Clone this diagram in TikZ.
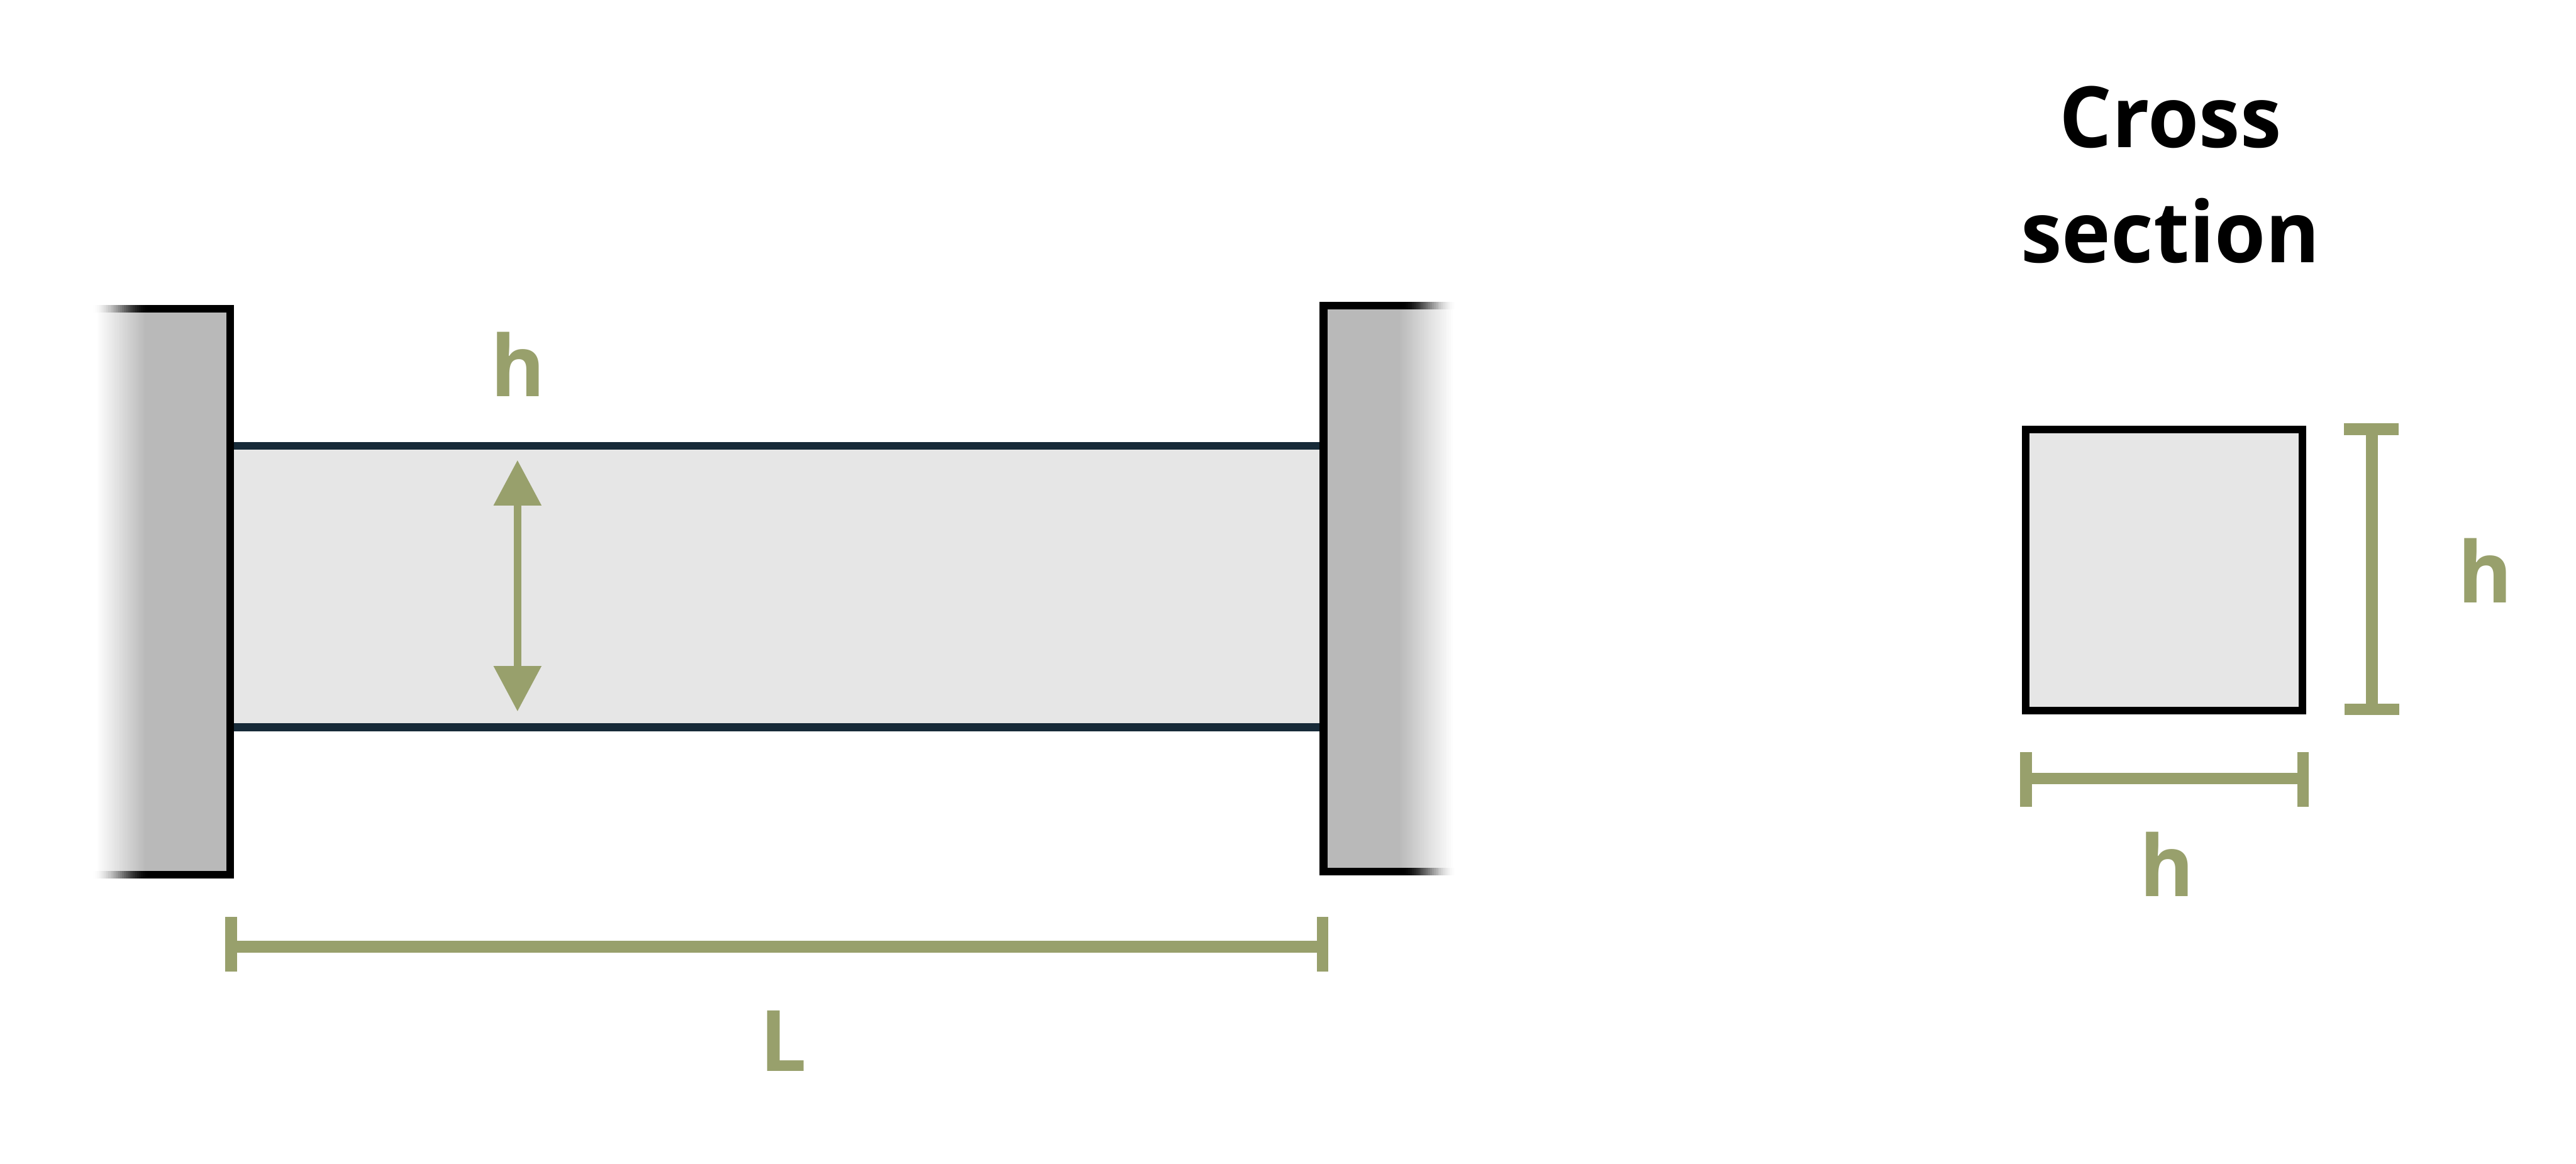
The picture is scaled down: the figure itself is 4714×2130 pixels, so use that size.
\documentclass[tikz,border=0pt]{standalone}
\usepackage{fontspec}
\setmainfont{Open Sans}[BoldFont={Open Sans Bold},FakeStretch=0.975]
\usetikzlibrary{arrows.meta,calc}
\definecolor{olive}{HTML}{98A06C}
\definecolor{beamgray}{HTML}{E6E6E6}
\definecolor{wallgray}{HTML}{B9B9B9}
\definecolor{beamdark}{HTML}{172A38}
\tikzset{
  x=0.01cm,y=-0.01cm,
  beamline/.style={draw=beamdark,line width=0.14cm},
  dimline/.style={draw=olive,line width=0.21cm},
  hstem/.style={draw=olive,line width=0.14cm,{Triangle[length=0.83cm,width=0.84cm]}-{Triangle[length=0.83cm,width=0.84cm]}},
  dimlabel/.style={text=olive,font=\fontsize{44.1}{53}\selectfont\bfseries,inner sep=0pt,anchor=base},
  titlelabel/.style={text=black,font=\fontsize{44.1}{59.75}\selectfont\bfseries,inner sep=0pt,align=center,anchor=base},
  section/.style={draw=black,fill=beamgray,line width=0.14cm,rectangle,inner sep=0pt,minimum width=5.06cm,minimum height=5.14cm},
}
\begin{document}
\begin{tikzpicture}
\useasboundingbox (0,0) rectangle (4714,2130);
\fill[white] (0,0) rectangle (4714,2130);

% beam
\coordinate (btl) at (428,816);
\coordinate (btr) at (2415,816);
\coordinate (bbl) at (428,1331);
\coordinate (bbr) at (2415,1331);
\fill[beamgray] (btl) rectangle (bbr);
\draw[beamline] (btl) -- (btr);
\draw[beamline] (bbl) -- (bbr);

% wall fades: each step paints over the lighter one before it, so no seams
\foreach \i in {1,...,30}{
  \pgfmathsetmacro\t{\i/30}
  \pgfmathsetmacro\g{100*\t}
  \pgfmathsetmacro\k{100*\t*\t*(3-2*\t)}
  % left wall fill
  \fill[wallgray!\g!white] ({175+90*\t},572) rectangle (421,1594);
  % right wall fill
  \fill[wallgray!\g!white] (2422,566) rectangle ({2662-100*\t},1588);
  % left wall fading edges
  \fill[black!\k!white] ({167+105*\t},558) rectangle (421,572);
  \fill[black!\k!white] ({167+105*\t},1594) rectangle (421,1608);
  % right wall fading edges
  \fill[black!\k!white] (2422,552) rectangle ({2667-100*\t},566);
  \fill[black!\k!white] (2422,1588) rectangle ({2667-100*\t},1602);
}
% wall faces towards the beam
\fill[black] (414,558) rectangle (428,1608);
\fill[black] (2415,552) rectangle (2429,1602);

% height arrow in beam
\coordinate (ha) at (947,842);
\coordinate (hb) at (947,1302);
\draw[hstem] (ha) -- (hb);
\node[dimlabel] (hbeam) at (948,726) {h};

% length dimension
\coordinate (la) at (423,1732.5);
\coordinate (lb) at (2420.5,1732.5);
\draw[dimline] (la) -- (lb);
\draw[dimline] ($(la)+(0,-54.5)$) -- ($(la)+(0,45.5)$);
\draw[dimline] ($(lb)+(0,-54)$) -- ($(lb)+(0,46)$);
\node[dimlabel] (lbl) at (1433,1960) {L};

% cross section
\node[section] (sq) at (3960,1043) {};
\node[titlelabel] (title) at (3972,480) {Cross\\section};

% right dimension
\coordinate (va) at (4340.5,785.5);
\coordinate (vb) at (4340.5,1298.5);
\draw[dimline] (va) -- (vb);
\draw[dimline] ($(va)+(-51.5,0)$) -- ($(va)+(48.5,0)$);
\draw[dimline] ($(vb)+(-50.5,0)$) -- ($(vb)+(49.5,0)$);
\node[dimlabel] (hright) at (4547.5,1103) {h};

% bottom dimension
\coordinate (wa) at (3707.5,1424.5);
\coordinate (wb) at (4214.5,1424.5);
\draw[dimline] (wa) -- (wb);
\draw[dimline] ($(wa)+(0,-47.5)$) -- ($(wa)+(0,52.5)$);
\draw[dimline] ($(wb)+(0,-47.5)$) -- ($(wb)+(0,52.5)$);
\node[dimlabel] (hbottom) at (3965,1640) {h};
\end{tikzpicture}
\end{document}
